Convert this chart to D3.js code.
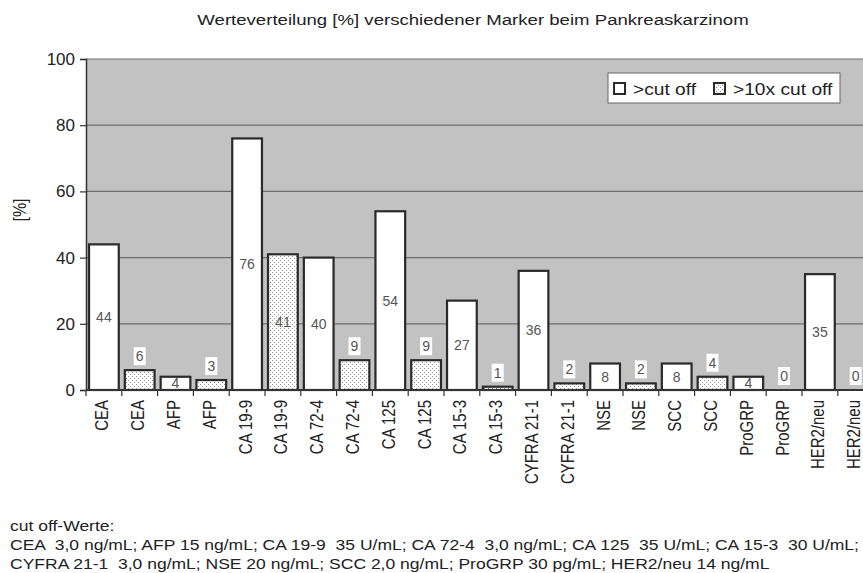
<!DOCTYPE html>
<html>
<head>
<meta charset="utf-8">
<script src="https://cdn.jsdelivr.net/npm/d3@7"></script>
<style>
  body { margin: 0; background: #fff; }
  svg { display: block; font-family: Arial, "Liberation Sans", sans-serif; }
</style>
</head>
<body>
<div class="chart"></div>
<script>
var markers = ["CEA", "AFP", "CA 19-9", "CA 72-4", "CA 125", "CA 15-3", "CYFRA 21-1", "NSE", "SCC", "ProGRP", "HER2/neu"];
var overCutoff = [44, 4, 76, 40, 54, 27, 36, 8, 8, 4, 35];
var over10x = [6, 3, 41, 9, 9, 1, 2, 2, 4, 0, 0];
var seriesNames = [">cut off", ">10x cut off"];
var yTicks = [0, 20, 40, 60, 80, 100];
var title = "Werteverteilung [%] verschiedener Marker beim Pankreaskarzinom";
var footLines = [
  "cut off-Werte:",
  "CEA  3,0 ng/mL; AFP 15 ng/mL; CA 19-9  35 U/mL; CA 72-4  3,0 ng/mL; CA 125  35 U/mL; CA 15-3  30 U/mL;",
  "CYFRA 21-1  3,0 ng/mL; NSE 20 ng/mL; SCC 2,0 ng/mL; ProGRP 30 pg/mL; HER2/neu 14 ng/mL"
];

var chart = function(){

  var width = 863,
      height = 573,
      plotLeft = 86,
      plotTop = 59,
      plotBottom = 390,
      step = 35.8,
      stretch = 1.2;   // the source text is a bit wide

  // two bars per marker: >cut off, then >10x cut off
  var bars = [];
  markers.forEach(function(m, i){
    bars.push({marker: m, s: 0, v: overCutoff[i]});
    bars.push({marker: m, s: 1, v: over10x[i]});
  });

  var svg = d3.select(".chart").append("svg")
      .attr("width", width)
      .attr("height", height);

  var pat = svg.append("defs").append("pattern")
      .attr("id", "dots")
      .attr("patternUnits", "userSpaceOnUse")
      .attr("width", 4)
      .attr("height", 4);
  pat.append("rect").attr("width", 4).attr("height", 4).attr("fill", "#fff");
  pat.append("rect").attr("x", 0).attr("y", 0).attr("width", 1).attr("height", 1).attr("fill", "#9a9a9a");
  pat.append("rect").attr("x", 2).attr("y", 2).attr("width", 1).attr("height", 1).attr("fill", "#9a9a9a");

  var x = d3.scaleBand()
      .domain(d3.range(bars.length))
      .range([plotLeft, plotLeft + step * bars.length])
      .paddingInner(0.17)
      .paddingOuter(0.085);

  var y = d3.scaleLinear()
      .domain([0, 100])
      .range([plotBottom, plotTop]);

  // plot background
  svg.append("rect")
      .attr("x", plotLeft)
      .attr("y", plotTop)
      .attr("width", width - plotLeft)
      .attr("height", plotBottom - plotTop)
      .attr("fill", "#c2c2c2");

  // gridlines
  svg.append("g").selectAll("line")
    .data(yTicks.slice(1))
    .enter().append("line")
      .attr("x1", plotLeft).attr("x2", width)
      .attr("y1", function(d){ return y(d); })
      .attr("y2", function(d){ return y(d); })
      .attr("stroke", "#6e6e6e")
      .attr("stroke-width", 1.2);

  // y axis
  var yAxis = svg.append("g")
      .attr("transform", "translate(" + plotLeft + ",0)")
      .call(d3.axisLeft(y).tickValues(yTicks).tickSize(6).tickPadding(5));
  yAxis.select(".domain").attr("stroke", "#333").attr("stroke-width", 1.5);
  yAxis.selectAll(".tick line").attr("stroke", "#333").attr("stroke-width", 1.2);
  yAxis.selectAll(".tick text")
      .attr("fill", "#222")
      .style("font-size", "17px")
      .style("font-family", "Arial, 'Liberation Sans', sans-serif");

  svg.append("text")
      .attr("transform", "translate(26,210) rotate(-90) scale(1," + stretch + ")")
      .attr("text-anchor", "middle")
      .attr("fill", "#222")
      .style("font-size", "16px")
      .text("[%]");

  // bars
  svg.append("g").selectAll("rect")
    .data(bars)
    .enter().append("rect")
      .attr("x", function(d, i){ return x(i); })
      .attr("y", function(d){ return y(d.v); })
      .attr("width", x.bandwidth())
      .attr("height", function(d){ return y(0) - y(d.v); })
      .attr("fill", function(d){ return d.s ? "url(#dots)" : "#fff"; })
      .attr("stroke", function(d){ return d.v > 0 ? "#2a2a2a" : "none"; })
      .attr("stroke-width", 2.2);

  // x axis
  var xAxis = svg.append("g")
      .attr("transform", "translate(0," + plotBottom + ")");
  xAxis.append("line")
      .attr("x1", plotLeft).attr("x2", width)
      .attr("stroke", "#333").attr("stroke-width", 2);
  xAxis.selectAll(".tk")
    .data(d3.range(bars.length + 1))
    .enter().append("line")
      .attr("class", "tk")
      .attr("x1", function(i){ return plotLeft + i * x.step(); })
      .attr("x2", function(i){ return plotLeft + i * x.step(); })
      .attr("y1", 0).attr("y2", 6)
      .attr("stroke", "#333").attr("stroke-width", 1.2);
  xAxis.selectAll(".lbl")
    .data(bars)
    .enter().append("text")
      .attr("class", "lbl")
      .attr("transform", function(d, i){
        return "translate(" + (x(i) + x.bandwidth() / 2 + 4.5) + ",10) rotate(-90) scale(1," + stretch + ")";
      })
      .attr("text-anchor", "end")
      .attr("fill", "#222")
      .style("font-size", "15px")
      .text(function(d){ return d.marker; });

  // value labels
  var labels = svg.append("g").selectAll("g")
    .data(bars)
    .enter().append("g")
      .attr("transform", function(d, i){
        var cx = x(i) + x.bandwidth() / 2;
        var inside = d.s === 0 || d.v >= 20;
        var cy = inside ? (y(d.v) + y(0)) / 2 : y(d.v) - 14;
        return "translate(" + cx + "," + cy + ")";
      });
  labels.filter(function(d){ return d.s === 1 && d.v < 20; })
    .append("rect")
      .attr("x", -6).attr("y", -9)
      .attr("width", 12).attr("height", 18)
      .attr("fill", "#fff");
  labels.append("text")
      .attr("text-anchor", "middle")
      .attr("dy", "0.36em")
      .attr("fill", "#555")
      .style("font-size", "14px")
      .text(function(d){ return d.v; });

  // legend
  var legend = svg.append("g").attr("transform", "translate(608,73)");
  legend.append("rect")
      .attr("width", 232).attr("height", 30)
      .attr("fill", "#fff")
      .attr("stroke", "#666").attr("stroke-width", 1);
  var item = legend.selectAll(".item")
    .data(seriesNames)
    .enter().append("g")
      .attr("class", "item")
      .attr("transform", function(d, i){ return "translate(" + (6 + i * 100) + ",0)"; });
  item.append("rect")
      .attr("x", 0).attr("y", 10)
      .attr("width", 11).attr("height", 11)
      .attr("fill", function(d, i){ return i ? "url(#dots)" : "#fff"; })
      .attr("stroke", "#2a2a2a").attr("stroke-width", 2);
  item.append("text")
      .attr("transform", "translate(19,22) scale(" + stretch + ",1)")
      .attr("fill", "#222")
      .style("font-size", "16px")
      .text(function(d){ return d; });

  // title
  svg.append("text")
      .attr("transform", "translate(473,25) scale(" + stretch + ",1)")
      .attr("text-anchor", "middle")
      .attr("fill", "#222")
      .style("font-size", "15.5px")
      .text(title);

  // footnote
  svg.append("g").selectAll("text")
    .data(footLines)
    .enter().append("text")
      .attr("transform", function(d, i){
        return "translate(10," + (531 + i * 19) + ") scale(" + stretch + ",1)";
      })
      .attr("fill", "#222")
      .style("font-size", "14.6px")
      .style("white-space", "pre")
      .text(function(d){ return d; });
};

chart();
</script>
</body>
</html>
